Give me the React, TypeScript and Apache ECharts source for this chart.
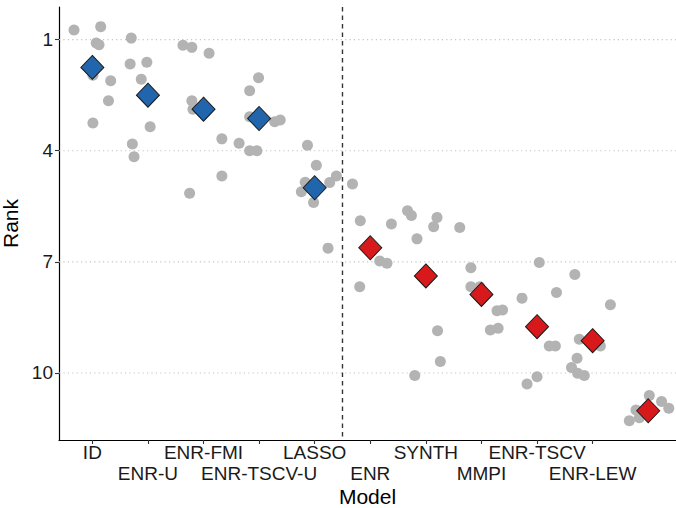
import React, { useEffect, useRef } from "react";
import * as echarts from "echarts";

const models = ["ID", "ENR-U", "ENR-FMI", "ENR-TSCV-U", "LASSO", "ENR", "SYNTH", "MMPI", "ENR-TSCV", "ENR-LEW", "MM"];
const modelGroup = ["blue", "blue", "blue", "blue", "blue", "red", "red", "red", "red", "red", "red"];
const meanRank = [1.75, 2.5, 2.88, 3.13, 5.0, 6.62, 7.38, 7.88, 8.75, 9.13, 11.02];
const rankTicks = [1, 4, 7, 10];

const pointRanks = [
  [0.74, 0.65, 1.09, 1.14, 1.96, 2.11, 2.65, 3.25],
  [0.96, 1.66, 1.61, 2.07, 3.35, 3.82, 4.16],
  [1.15, 1.21, 1.37, 2.65, 2.88, 3.68, 4.68, 5.15],
  [2.03, 2.38, 3.08, 3.22, 3.17, 3.8, 4.0, 4.0],
  [3.85, 4.39, 4.85, 5.11, 5.4, 4.86, 4.68, 6.63],
  [4.9, 5.89, 5.98, 6.98, 7.04, 7.67],
  [5.62, 5.75, 5.8, 6.05, 6.38, 8.86, 9.69, 10.07],
  [6.07, 7.16, 7.67, 7.67, 8.32, 8.3, 8.84, 8.79],
  [7.02, 7.98, 7.83, 9.27, 9.27, 10.1, 10.3],
  [7.34, 8.16, 9.09, 9.27, 9.6, 9.85, 10.01, 10.07],
  [10.61, 10.77, 10.95, 11.0, 11.29, 11.21],
];
const pointJitter = [
  [-0.33, 0.15, 0.07, 0.12, 0.01, 0.33, 0.29, 0.01],
  [-0.3, -0.32, -0.02, -0.12, 0.04, -0.28, -0.25],
  [-0.37, -0.21, 0.1, -0.21, -0.19, 0.33, 0.33, -0.25],
  [-0.01, -0.17, -0.17, 0.28, 0.38, -0.36, -0.17, -0.04],
  [-0.13, 0.03, -0.17, -0.24, -0.02, 0.27, 0.39, 0.24],
  [-0.32, -0.18, 0.38, 0.17, 0.3, -0.19],
  [-0.33, -0.26, 0.2, 0.14, -0.16, 0.21, 0.26, -0.2],
  [-0.39, -0.19, -0.19, -0.03, 0.28, 0.38, 0.16, 0.3],
  [0.04, -0.27, 0.35, 0.22, 0.33, 0.0, -0.18],
  [-0.32, 0.32, -0.24, 0.14, -0.28, -0.38, -0.27, -0.15],
  [0.02, 0.24, 0.37, -0.22, -0.34, -0.16],
];

const groupColors: Record<string, string> = { blue: "#2166ac", red: "#d7191c" };

const X_MIN = 0.4;
const X_MAX = 11.5;
const Y_MIN = 0.12;
const Y_MAX = 11.81;
const FONT = "'Liberation Sans', Arial, Helvetica, sans-serif";

export default function App() {
  const ref = useRef<HTMLDivElement>(null);
  useEffect(() => {
    if (!ref.current) return;
    const chart = echarts.init(ref.current, undefined, { renderer: "svg" });

    const points: number[][] = [];
    pointRanks.forEach((ranks, i) => {
      ranks.forEach((r, j) => points.push([i + 1 + pointJitter[i][j], r]));
    });
    const means = meanRank.map((r, i) => ({
      value: [i + 1, r],
      itemStyle: { color: groupColors[modelGroup[i]] },
    }));
    const idx = models.map((_, i) => i + 1);
    const splitIdx = modelGroup.findIndex((g) => g === "red");

    const gridSeries = rankTicks.map((t) => ({
      type: "line",
      data: [[X_MIN, t], [X_MAX, t]],
      symbol: "none",
      silent: true,
      z: 1,
      lineStyle: { color: "#c4c4c4", width: 1.1, type: [1.2, 3.2] },
    }));

    chart.setOption({
      animation: false,
      textStyle: { fontFamily: FONT },
      grid: { left: 59, right: 0, top: 7, bottom: 68, outerBoundsMode: "none", containLabel: false },
      xAxis: {
        type: "value",
        min: X_MIN,
        max: X_MAX,
        name: "Model",
        nameLocation: "middle",
        nameGap: 46,
        nameMoveOverlap: false,
        nameTextStyle: { fontSize: 21, lineHeight: 21, color: "#000", fontFamily: FONT },
        axisLine: { show: true, lineStyle: { color: "#000", width: 1.2 } },
        axisTick: { show: true, customValues: idx, length: 4, lineStyle: { color: "#333", width: 1.1 } },
        axisLabel: {
          customValues: idx,
          fontSize: 19,
          lineHeight: 21,
          margin: 2,
          color: "#1a1a1a",
          fontFamily: FONT,
          formatter: (v: number) => {
            const i = Math.round(v) - 1;
            return i % 2 === 0 ? models[i] : "\n" + models[i];
          },
        },
        splitLine: { show: false },
      },
      yAxis: {
        type: "value",
        inverse: true,
        min: Y_MIN,
        max: Y_MAX,
        name: "Rank",
        nameLocation: "middle",
        nameGap: 25,
        nameTextStyle: { fontSize: 21, color: "#000", fontFamily: FONT },
        axisLine: { show: true, lineStyle: { color: "#000", width: 1.2 } },
        axisTick: { show: true, customValues: rankTicks, length: 4, lineStyle: { color: "#333", width: 1.1 } },
        axisLabel: { customValues: rankTicks, fontSize: 19, margin: 6, color: "#1a1a1a", fontFamily: FONT },
        splitLine: { show: false },
      },
      series: [
        ...gridSeries,
        {
          type: "line",
          data: [[splitIdx + 0.5, Y_MIN], [splitIdx + 0.5, Y_MAX]],
          symbol: "none",
          silent: true,
          z: 2,
          lineStyle: { color: "#333", width: 1.4, type: [4.5, 4] },
        },
        {
          type: "scatter",
          data: points,
          symbol: "circle",
          symbolSize: 11,
          z: 3,
          itemStyle: { color: "#b3b3b3", opacity: 1 },
        },
        {
          type: "scatter",
          data: means,
          symbol: "diamond",
          symbolSize: [23, 24],
          z: 4,
          itemStyle: { borderColor: "#1a1a1a", borderWidth: 1, opacity: 1 },
        },
      ],
    });
    return () => chart.dispose();
  }, []);
  return (
    <div
      ref={ref}
      style={{ position: "absolute", left: 0, top: 0, width: 676, height: 508, background: "#fff" }}
    />
  );
}
